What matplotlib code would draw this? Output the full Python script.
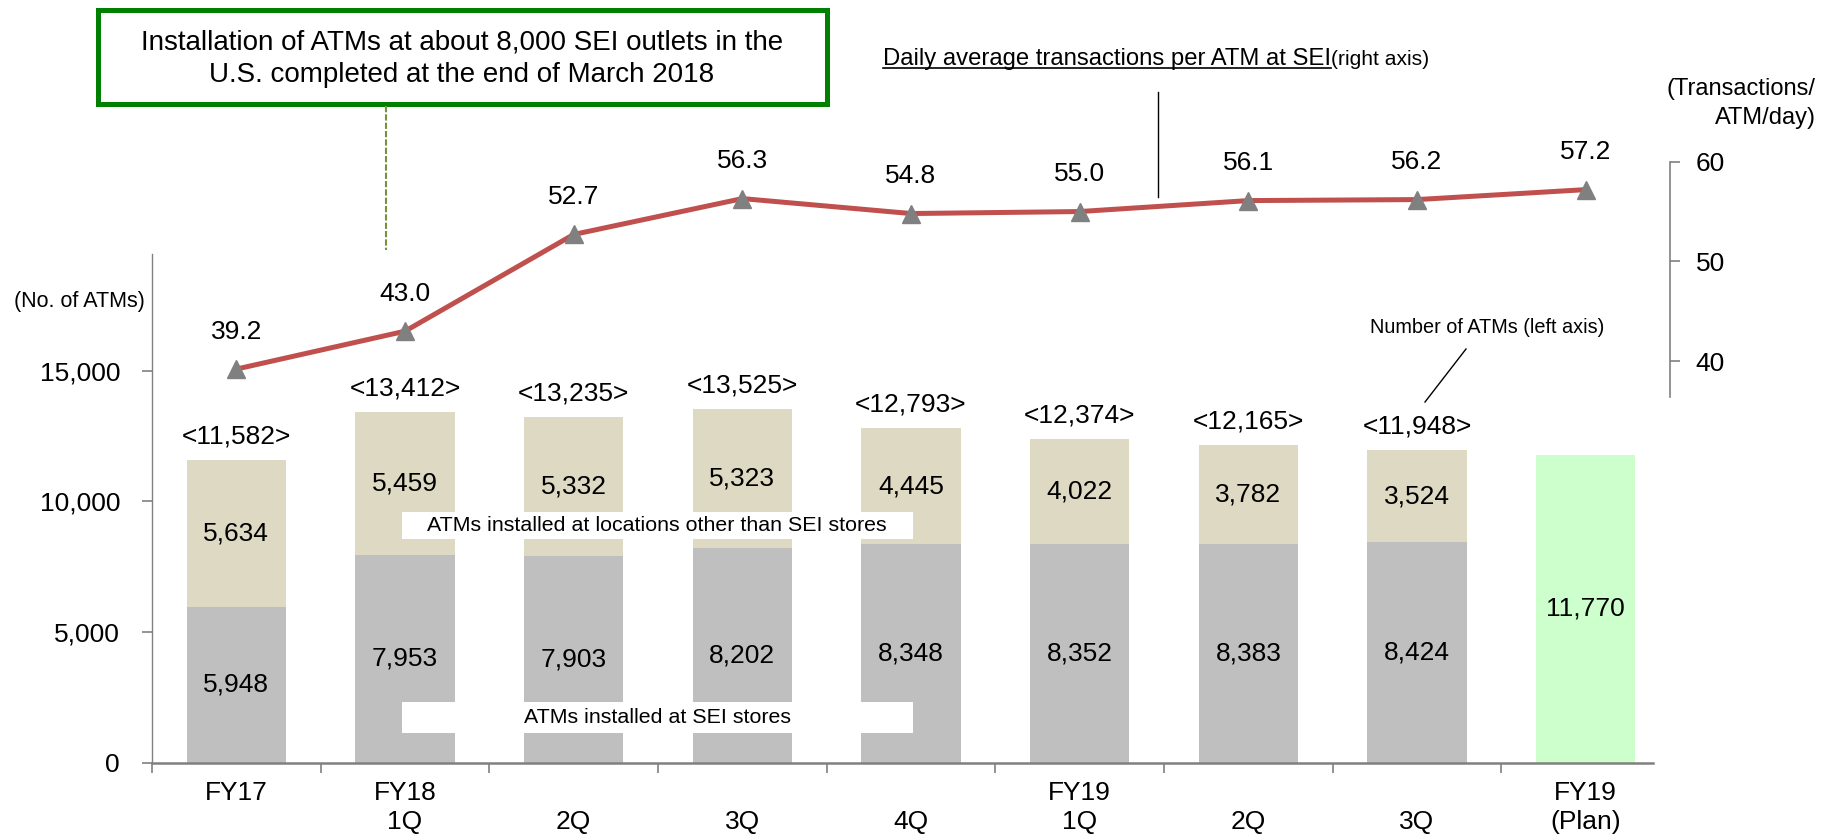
import matplotlib
matplotlib.use("Agg")
import matplotlib.pyplot as plt
from matplotlib.patches import Rectangle
from matplotlib.lines import Line2D
from matplotlib.ticker import FuncFormatter

plt.rcParams['font.family'] = ['Liberation Sans', 'DejaVu Sans']

# data
categories = ["FY17", "FY18\n1Q", "\n2Q", "\n3Q", "\n4Q", "FY19\n1Q", "\n2Q", "\n3Q", "FY19\n(Plan)"]
sei_stores = [5948, 7953, 7903, 8202, 8348, 8352, 8383, 8424]
other_locations = [5634, 5459, 5332, 5323, 4445, 4022, 3782, 3524]
totals = [11582, 13412, 13235, 13525, 12793, 12374, 12165, 11948]
plan_value = 11770
daily_tx = [39.2, 43.0, 52.7, 56.3, 54.8, 55.0, 56.1, 56.2, 57.2]

W, H = 1822, 839
fig = plt.figure(figsize=(W / 100, H / 100), dpi=100)


def fx(x):
    return x / W


def fy(y):
    return 1 - y / H


# left axis (number of ATMs)
ax = fig.add_axes([fx(152), fy(762.7), (1670 - 152) / W, (762.7 - 254) / H])
# right axis (transactions), shorter box on the upper part
ax2 = fig.add_axes([fx(152), fy(397), (1670 - 152) / W, (397 - 161.7) / H])

n = len(sei_stores)
xs = list(range(n))
bw = 0.59
ax.bar(xs, sei_stores, width=bw, color='#BFBFBF', zorder=2)
ax.bar(xs, other_locations, bottom=sei_stores, width=bw, color='#DDD9C3', zorder=2)
ax.bar(n, plan_value, width=bw, color='#CCFFCC', zorder=2)

for i in xs:
    s, o = sei_stores[i], other_locations[i]
    ax.text(i, s / 2, f"{s:,}", ha='center', va='center', fontsize=19, zorder=5)
    ax.text(i, s + o / 2, f"{o:,}", ha='center', va='center', fontsize=19, zorder=5)
    ax.annotate(f"<{totals[i]:,}>", (i, totals[i]), xytext=(0, 17), textcoords='offset points',
                ha='center', va='center', fontsize=19)
ax.text(n, plan_value / 2, f"{plan_value:,}", ha='center', va='center', fontsize=19)

# white label strips across the bars
ax.add_patch(Rectangle((0.98, 8558), 3.03, 1033, facecolor='white', edgecolor='none', zorder=3))
ax.text(2.495, 9075, "ATMs installed at locations other than SEI stores", ha='center', va='center',
        fontsize=15.4, zorder=5)
ax.add_patch(Rectangle((0.98, 1137), 3.03, 1185, facecolor='white', edgecolor='none', zorder=3))
ax.text(2.495, 1740, "ATMs installed at SEI stores", ha='center', va='center', fontsize=15.4, zorder=5)

ax.set_xlim(-0.5, 8.5)
ax.set_ylim(0, 19460)
ax.set_xticks(range(len(categories)))
ax.set_xticklabels(categories, linespacing=1.3)
ax.set_xticks([i - 0.5 for i in range(len(categories))], minor=True)
ax.tick_params(axis='x', which='major', length=0, pad=13, labelsize=19)
ax.tick_params(axis='x', which='minor', length=7, color='#808080', width=1.2)
ax.set_yticks([0, 5000, 10000, 15000])
ax.yaxis.set_major_formatter(FuncFormatter(lambda v, p: f"{int(v):,}"))
ax.tick_params(axis='y', length=7, color='#808080', width=1.2, pad=16, labelsize=19)
for side in ['top', 'right']:
    ax.spines[side].set_visible(False)
ax.spines['left'].set_color('#808080')
ax.spines['left'].set_linewidth(1.0)
ax.spines['bottom'].set_color('#808080')
ax.spines['bottom'].set_linewidth(1.8)
ax.spines['bottom'].set_bounds(-0.5, 8.4)

# transactions line
ax2.patch.set_visible(False)
ax2.plot(range(len(daily_tx)), daily_tx, color='#C0504D', lw=3.6, marker='^', ms=13,
         mfc='#808080', mec='#808080', zorder=5)
for i, v in enumerate(daily_tx):
    ax2.annotate(f"{v:.1f}", (i, v), xytext=(0, 27), textcoords='offset points',
                 ha='center', va='center', fontsize=19)
ax2.set_xlim(-0.5, 8.5)
ax2.set_ylim(36.4, 60)
ax2.set_xticks([])
ax2.yaxis.tick_right()
ax2.set_yticks([40, 50, 60])
ax2.tick_params(axis='y', length=7, color='#808080', width=1.2, pad=11.5, labelsize=19)
for side in ['top', 'left', 'bottom']:
    ax2.spines[side].set_visible(False)
ax2.spines['right'].set_color('#808080')
ax2.spines['right'].set_linewidth(1.2)

# axis units
fig.text(fx(79.5), fy(302), "(No. of ATMs)", ha='center', va='center', fontsize=15.5)
fig.text(fx(1816), fy(103.5), "(Transactions/\nATM/day)", ha='right', va='center', fontsize=17,
         multialignment='right', linespacing=1.45)

# callout box
fig.add_artist(Rectangle((fx(98), fy(104)), (827 - 98) / W, (104 - 10) / H, transform=fig.transFigure,
                         facecolor='white', edgecolor='#008000', lw=3.6))
fig.text(fx(462), fy(59), "Installation of ATMs at about 8,000 SEI outlets in the\nU.S. completed at the end of March 2018",
         ha='center', va='center', fontsize=20, linespacing=1.35)
fig.add_artist(Line2D([fx(386), fx(386)], [fy(106), fy(250)], transform=fig.transFigure,
                      color='#77933C', lw=1.5, ls=(0, (3, 1))))

# series labels with leader lines
t = fig.text(fx(883), fy(65), "Daily average transactions per ATM at SEI", ha='left', va='baseline', fontsize=17.2)
fig.canvas.draw()
bb = t.get_window_extent(fig.canvas.get_renderer())
fig.text(bb.x1 / W, fy(65), "(right axis)", ha='left', va='baseline', fontsize=15.1)
fig.add_artist(Line2D([bb.x0 / W, bb.x1 / W], [fy(68), fy(68)], transform=fig.transFigure, color='black', lw=1.2))
fig.add_artist(Line2D([fx(1158), fx(1158)], [fy(92), fy(197)], transform=fig.transFigure, color='black', lw=1))

fig.text(fx(1487), fy(328), "Number of ATMs (left axis)", ha='center', va='center', fontsize=14.3)
fig.add_artist(Line2D([fx(1466), fx(1425)], [fy(349), fy(402)], transform=fig.transFigure, color='black', lw=1))

fig.savefig("out.png", dpi=100)
